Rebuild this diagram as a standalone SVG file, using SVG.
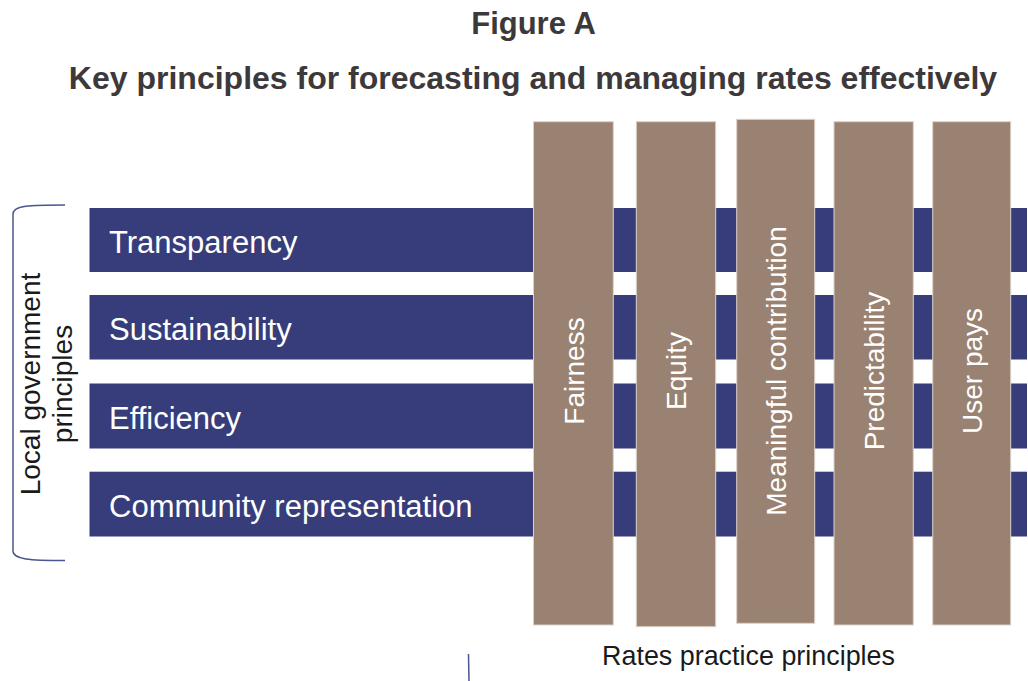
<svg xmlns="http://www.w3.org/2000/svg" width="1028" height="681" viewBox="0 0 1028 681">
  <style>
    .title { font-family: "Liberation Sans", Arial, sans-serif; font-weight: bold; fill: #3d393a; text-anchor: middle; }
    .row { fill: #363d7a; }
    .rowtxt { font-family: "Liberation Sans", Arial, sans-serif; font-size: 31px; fill: #ffffff; }
    .col { fill: #9a8272; stroke: #ddd2ca; stroke-width: 1; }
    .coltxt { font-family: "Liberation Sans", Arial, sans-serif; font-size: 28px; fill: #ffffff; text-anchor: middle; }
    .label { font-family: "Liberation Sans", Arial, sans-serif; fill: #1a1a1a; text-anchor: middle; }
    .brace { fill: none; stroke: #4b5590; stroke-width: 1.5; }
  </style>
  <rect width="1028" height="681" fill="#ffffff"/>

  <!-- Headings -->
  <text class="title" x="533.5" y="33.5" font-size="31">Figure A</text>
  <text class="title" x="533" y="89" font-size="32">Key principles for forecasting and managing rates effectively</text>

  <!-- Horizontal bands: local government principles -->
  <g id="row-transparency">
    <rect class="row" x="89.5" y="208" width="937.5" height="64"/>
    <text class="rowtxt" x="109" y="253">Transparency</text>
  </g>
  <g id="row-sustainability">
    <rect class="row" x="89.5" y="295" width="937.5" height="64.5"/>
    <text class="rowtxt" x="109" y="340">Sustainability</text>
  </g>
  <g id="row-efficiency">
    <rect class="row" x="89.5" y="383.5" width="937.5" height="65"/>
    <text class="rowtxt" x="109" y="429">Efficiency</text>
  </g>
  <g id="row-community">
    <rect class="row" x="89.5" y="471.7" width="937.5" height="64.8"/>
    <text class="rowtxt" x="109" y="517">Community representation</text>
  </g>

  <!-- Vertical pillars: rates practice principles -->
  <g id="col-fairness">
    <rect class="col" x="533.5" y="121.7" width="79.8" height="503.3"/>
    <text class="coltxt" transform="translate(583.5 371) rotate(-90)">Fairness</text>
  </g>
  <g id="col-equity">
    <rect class="col" x="636.3" y="121.7" width="79.4" height="505"/>
    <text class="coltxt" transform="translate(686 371) rotate(-90)">Equity</text>
  </g>
  <g id="col-meaningful">
    <rect class="col" x="736.7" y="119.3" width="78" height="504"/>
    <text class="coltxt" transform="translate(785.5 371) rotate(-90)">Meaningful contribution</text>
  </g>
  <g id="col-predictability">
    <rect class="col" x="834" y="121.7" width="79.3" height="503.3"/>
    <text class="coltxt" transform="translate(883.5 371) rotate(-90)">Predictability</text>
  </g>
  <g id="col-userpays">
    <rect class="col" x="932.7" y="121.7" width="78" height="503.3"/>
    <text class="coltxt" transform="translate(981.5 371) rotate(-90)">User pays</text>
  </g>

  <!-- Group labels with braces -->
  <g id="connectors">
    <path class="brace" d="M 65 205 C 30 205 13 205.5 13 214 V 551 C 13 559.5 30 560.5 65 560.5"/>
    <path class="brace" d="M 468.5 654 L 469 681"/>
  </g>
  <g id="label-local">
    <text class="label" font-size="28" transform="translate(40 384) rotate(-90)">Local government</text>
    <text class="label" font-size="28" transform="translate(71.5 384) rotate(-90)">principles</text>
  </g>
  <g id="label-rates">
    <text class="label" x="748.5" y="665" font-size="26.9">Rates practice principles</text>
  </g>
</svg>
